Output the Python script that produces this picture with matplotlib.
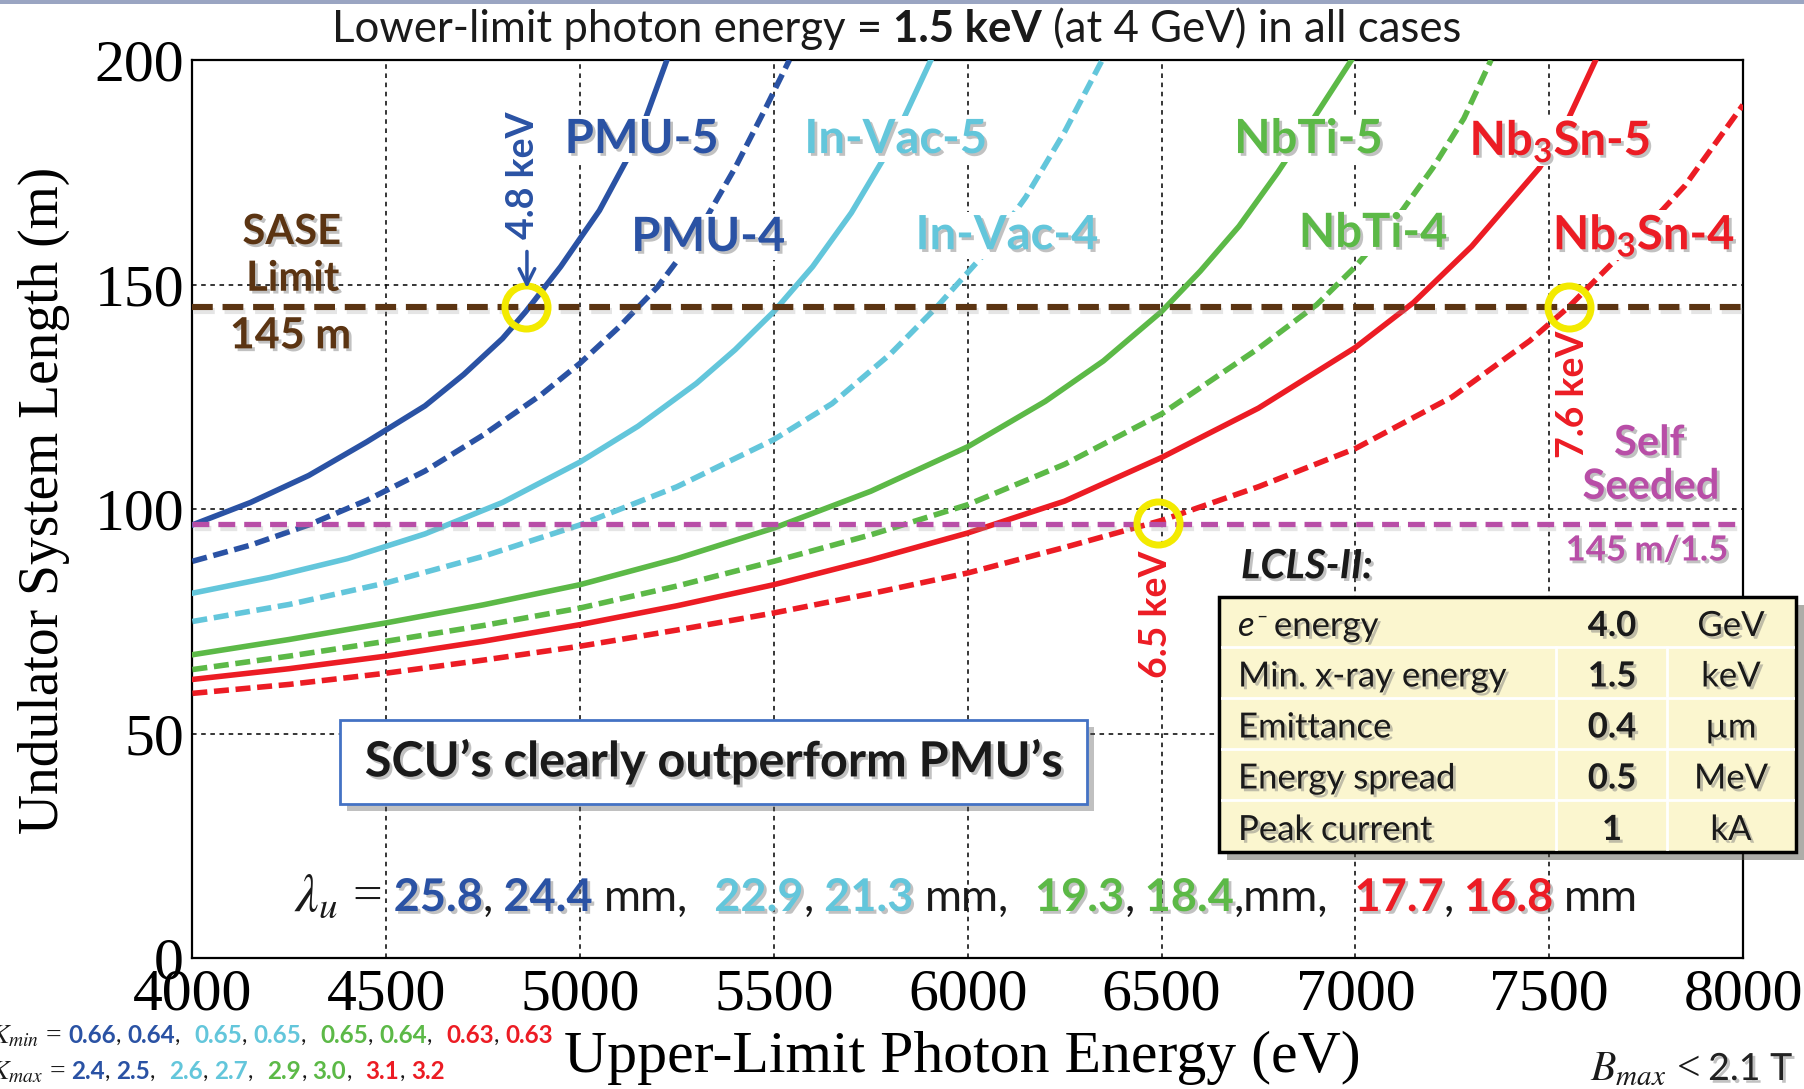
import matplotlib
matplotlib.use('Agg')
import matplotlib.pyplot as plt
import matplotlib.patheffects as pe
from matplotlib.patches import Rectangle

plt.rcParams['font.family'] = ['Lato', 'DejaVu Sans']
plt.rcParams['mathtext.fontset'] = 'custom'
plt.rcParams['mathtext.rm'] = 'Lato:bold'
plt.rcParams['mathtext.bf'] = 'Lato:bold'
plt.rcParams['mathtext.it'] = 'Lato:italic'

# ---- curves: upper-limit photon energy (eV) vs length (m)
e_pmu5 = [4000, 4150, 4300, 4450, 4600, 4700, 4800, 4860, 4950, 5050, 5150, 5224]
l_pmu5 = [96.5, 101.5, 107.5, 115, 123, 130, 138, 144, 154, 166.5, 182.5, 200]
e_pmu4 = [4000, 4150, 4300, 4450, 4600, 4750, 4900, 5000, 5100, 5200, 5300, 5400, 5480, 5540]
l_pmu4 = [88.4, 92, 96.5, 102, 108.5, 116.5, 125.5, 132.5, 140.5, 149.5, 161, 176, 189.5, 200]
e_vac5 = [4000, 4200, 4400, 4600, 4800, 5000, 5150, 5300, 5400, 5500, 5600, 5700, 5800, 5905]
l_vac5 = [81.3, 84.8, 89, 94.5, 101.5, 110.5, 118.5, 128, 135.5, 144, 154, 166, 180.5, 200]
e_vac4 = [4000, 4250, 4500, 4750, 5000, 5250, 5500, 5650, 5800, 5920, 6050, 6150, 6250, 6347]
l_vac4 = [75, 78.8, 83.6, 89.5, 96.5, 105, 115.5, 123.5, 134.5, 145, 157.5, 169.5, 184, 200]
e_nbti5 = [4000, 4250, 4500, 4750, 5000, 5250, 5500, 5750, 6000, 6200, 6350, 6500, 6600, 6700,
           6800, 6900, 6990]
l_nbti5 = [67.6, 71, 74.7, 78.7, 83.2, 89, 95.8, 104, 113.9, 124, 133, 144, 153, 163,
           175, 188, 200]
e_nbti4 = [4000, 4250, 4500, 4750, 5000, 5250, 5500, 5750, 6000, 6250, 6500, 6750, 6900, 7000,
           7100, 7200, 7280, 7350]
l_nbti4 = [64.3, 67.3, 70.6, 74.1, 78, 82.9, 88.4, 94.3, 101, 110, 121.2, 135.8, 145.5, 154,
           164, 176, 187, 200]
e_nbsn5 = [4000, 4250, 4500, 4750, 5000, 5250, 5500, 5750, 6000, 6250, 6500, 6750, 7000, 7150,
           7300, 7475, 7550, 7620]
l_nbsn5 = [62.1, 64.5, 67.3, 70.6, 74.3, 78.5, 83.2, 88.7, 94.7, 101.8, 111.5, 122.5, 136, 146,
           158.5, 176, 187, 200]
e_nbsn4 = [4000, 4250, 4500, 4750, 5000, 5250, 5500, 5750, 6000, 6250, 6500, 6750, 7000, 7250,
           7450, 7550, 7700, 7850, 8000]
l_nbsn4 = [59, 61, 63.5, 66.4, 69.5, 73.1, 76.9, 81.2, 85.8, 91.5, 97.5, 105, 113.5, 125,
           137.5, 145, 158, 172, 190]

sase_limit = 145
self_seeded = 145 / 1.5

circle_e = [4860, 6490, 7550]
circle_l = [145, 97, 145]

lambda_u = [25.8, 24.4, 22.9, 21.3, 19.3, 18.4, 17.7, 16.8]
k_min = [0.66, 0.64, 0.65, 0.65, 0.65, 0.64, 0.63, 0.63]
k_max = [2.4, 2.5, 2.6, 2.7, 2.9, 3.0, 3.1, 3.2]

table_names = ['energy', 'Min. x-ray energy', 'Emittance', 'Energy spread', 'Peak current']
table_values = ['4.0', '1.5', '0.4', '0.5', '1']
table_units = ['GeV', 'keV', '\u00b5m', 'MeV', 'kA']

xticks = [4000, 4500, 5000, 5500, 6000, 6500, 7000, 7500, 8000]
yticks = [0, 50, 100, 150, 200]

BLUE = '#2a52a4'
CYAN = '#63c6db'
GREEN = '#5cb947'
RED = '#ec1c24'
BROWN = '#5b3412'
MAGENTA = '#b84ea7'
YELLOW = '#f3ea00'
DARK = '#1a1a1a'
fam_colors = [BLUE, CYAN, GREEN, RED]

W, H = 1804, 1089
fig = plt.figure(figsize=(W / 100, H / 100), dpi=100)
ax = fig.add_axes([192.4 / W, 1 - 958.4 / H, (1743 - 192.4) / W, 898.4 / H])
shadow = [pe.withSimplePatchShadow(offset=(2, -2), shadow_rgbFace='#777777', alpha=0.45)]
white_box = dict(fc='white', ec='none', pad=1)

# thin header bar of the slide
fig.add_artist(Rectangle((0, 1 - 4 / H), 1, 4 / H, transform=fig.transFigure,
                         color='#9aa5c2', lw=0))

curves = [
    (e_pmu5, l_pmu5, BLUE, '-'), (e_pmu4, l_pmu4, BLUE, '--'),
    (e_vac5, l_vac5, CYAN, '-'), (e_vac4, l_vac4, CYAN, '--'),
    (e_nbti5, l_nbti5, GREEN, '-'), (e_nbti4, l_nbti4, GREEN, '--'),
    (e_nbsn5, l_nbsn5, RED, '-'), (e_nbsn4, l_nbsn4, RED, '--'),
]
for xs, ys, c, ls in curves:
    line, = ax.plot(xs, ys, color=c, lw=4.0, zorder=3, solid_joinstyle='round')
    if ls == '--':
        line.set_dashes((2.7, 1.2))

line_shadow = [pe.SimpleLineShadow(offset=(1, -3), shadow_color='#999999', alpha=0.25), pe.Normal()]
ax.axhline(sase_limit, color=BROWN, lw=4.4, dashes=(3.4, 1.6), zorder=4, path_effects=line_shadow)
ax.axhline(self_seeded, color=MAGENTA, lw=3.8, dashes=(3.2, 1.7), zorder=4, path_effects=line_shadow)

ax.plot(circle_e, circle_l, 'o', ms=31, mfc='none', mec=YELLOW, mew=5, zorder=6)

ax.set_xlim(4000, 8000)
ax.set_ylim(0, 200)
ax.set_xticks(xticks)
ax.set_xticklabels([str(v) for v in xticks], fontfamily='Liberation Serif', fontsize=43)
ax.set_yticks(yticks)
ax.set_yticklabels([str(v) for v in yticks], fontfamily='Liberation Serif', fontsize=43)
ax.tick_params(length=0)
ax.tick_params(axis='x', pad=7)
ax.tick_params(axis='y', pad=6)
ax.grid(True, color='black', lw=1.1, linestyle=(0, (3, 3)), zorder=0)
for s in ax.spines.values():
    s.set_linewidth(1.6)

ax.set_xlabel('Upper-Limit Photon Energy (eV)', fontfamily='Liberation Serif', fontsize=43)
ax.xaxis.set_label_coords(0.4967, -0.1112)
ax.xaxis.label.set_va('center')
ax.set_ylabel('Undulator System Length (m)', fontfamily='Liberation Serif', fontsize=40)
ax.yaxis.set_label_coords(-0.0958, 0.51)
ax.yaxis.label.set_va('center')

# curve labels
labels = [
    ('PMU-5', 5159, 182.4, BLUE), ('PMU-4', 5331, 160.6, BLUE),
    ('In-Vac-5', 5815, 182.4, CYAN), ('In-Vac-4', 6102, 161, CYAN),
    ('NbTi-5', 6879, 182.4, GREEN), ('NbTi-4', 7046, 161.5, GREEN),
    ('Nb$_3$Sn-5', 7528, 182, RED), ('Nb$_3$Sn-4', 7745, 161, RED),
]
for s, x, y, c in labels:
    ax.text(x, y, s, color=c, fontsize=34, fontweight='bold', ha='center', va='center',
            zorder=7, path_effects=shadow, bbox=white_box)

ax.text(4256, 161.7, 'SASE', color=BROWN, fontsize=30, fontweight='bold', ha='center',
        va='center', path_effects=shadow, zorder=7)
ax.text(4259, 151.3, 'Limit', color=BROWN, fontsize=30, fontweight='bold', ha='center',
        va='center', path_effects=shadow, zorder=7)
ax.text(4253, 138.7, '145 m', color=BROWN, fontsize=31, fontweight='bold', ha='center',
        va='center', path_effects=shadow, zorder=7)

ax.text(7758, 114.7, 'Self', color=MAGENTA, fontsize=30, fontweight='bold', ha='center',
        va='center', path_effects=shadow, zorder=7)
ax.text(7762, 105, 'Seeded', color=MAGENTA, fontsize=30, fontweight='bold', ha='center',
        va='center', path_effects=shadow, zorder=7)
ax.text(7752, 90.8, '145 m/1.5', color=MAGENTA, fontsize=25, fontweight='bold', ha='center',
        va='center', path_effects=shadow, zorder=7)

ax.text(4853, 174.4, '4.8 keV', color=BLUE, fontsize=27, fontweight='bold', rotation=90,
        ha='center', va='center', zorder=7, bbox=white_box)
ax.annotate('', xy=(4863, 148.6), xytext=(4863, 158),
            arrowprops=dict(arrowstyle='->', color=BLUE, lw=2.5, mutation_scale=28), zorder=7)
ax.text(6486, 76.6, '6.5 keV', color=RED, fontsize=27, fontweight='bold', rotation=90,
        ha='center', va='center', zorder=7, bbox=white_box)
ax.text(7561, 125.5, '7.6 keV', color=RED, fontsize=27, fontweight='bold', rotation=90,
        ha='center', va='center', zorder=7)

ax.text(6875, 87.2, 'LCLS-II:', color=DARK, fontsize=29, fontweight='bold', style='italic',
        ha='center', va='center', path_effects=shadow, zorder=7)

# "SCU's clearly outperform PMU's" box
ax.add_patch(Rectangle((4381, 34.4), 6308 - 4381, 53.1 - 34.4, fc='white', ec='#4472c4', lw=2,
                       zorder=5, path_effects=[pe.withSimplePatchShadow(offset=(5, -5), alpha=0.35)]))
ax.text(5345, 43.9, 'SCU\u2019s clearly outperform PMU\u2019s', color=DARK, fontsize=35,
        fontweight='bold', ha='center', va='center', zorder=6, path_effects=shadow)

# white band behind the lambda_u line
ax.add_patch(Rectangle((4200, 5), 3400, 19, fc='white', ec='none', zorder=1))

rend = fig.canvas.get_renderer()


def runs(x, y, parts, center=False):
    # parts: (text, gap after in px, text kwargs); x, y in pixels from top-left, y = baseline
    items, cur = [], x
    for s, gap, kw in parts:
        t = fig.text(cur / W, 1 - y / H, s, va='baseline', **kw)
        items.append(t)
        cur += t.get_window_extent(rend).width + gap
    if center:
        shift = (cur - x) / 2
        for t in items:
            t.set_x(t.get_position()[0] - shift / W)
    return items


# title
runs(897, 42.5, [
    ('Lower-limit photon energy =', 11, dict(fontsize=31.5, color=DARK)),
    ('1.5 keV', 11, dict(fontsize=31.5, color=DARK, fontweight='bold')),
    ('(at 4 GeV) in all cases', 0, dict(fontsize=31.5, color=DARK)),
], center=True)

# lambda_u line
lam = [('$\\lambda_u$ =', 12, dict(fontfamily='Liberation Serif', math_fontfamily='stix',
                                    fontsize=38, color=DARK))]
units_after = [('mm,', 26), ('mm,', 26), (',mm,', 26), ('mm', 0)]
for i, v in enumerate(lambda_u):
    c = fam_colors[i // 2]
    big = dict(fontsize=32.5, color=c, fontweight='bold', path_effects=shadow)
    if i % 2 == 0:
        lam.append((f'{v:.1f}', 0, big))
        lam.append((',', 10, dict(fontsize=32.5, color=DARK)))
    else:
        u, g = units_after[i // 2]
        gap = 0 if u.startswith(',') else 11
        lam.append((f'{v:.1f}', gap, big))
        lam.append((u, g, dict(fontsize=32.5, color=DARK)))
runs(966, 911, lam, center=True)

# K lines at bottom left
for y0, name, vals, fmt in [(1043, '$K_{min}$ =', k_min, '{:.2f}'), (1079, '$K_{max}$ =', k_max, '{:.1f}')]:
    parts = [(name, 6, dict(fontfamily='Liberation Serif', math_fontfamily='stix', fontsize=20,
                            color=DARK))]
    for i, v in enumerate(vals):
        parts.append((fmt.format(v), 0, dict(fontsize=17.5, color=fam_colors[i // 2], fontweight='bold')))
        if i < len(vals) - 1:
            parts.append((',', 6 if i % 2 == 0 else 14, dict(fontsize=17.5, color=DARK)))
    runs(-10, y0, parts)

# B_max
runs(1590, 1080, [
    ('$B_{max}$ <', 8, dict(fontfamily='Liberation Serif', math_fontfamily='stix', fontsize=30,
                            color=DARK)),
    ('2.1 T', 0, dict(fontsize=27, color='#222222', path_effects=shadow)),
])

# parameter table (figure pixels)
tl, tr, tt, tb = 1219, 1796, 597, 852
row_edges = [597, 647, 698, 749, 800, 852]
col_edges = [1556, 1667]


def fx(px):
    return px / W


def fy(py):
    return 1 - py / H


fig.add_artist(Rectangle((fx(tl), fy(tb)), fx(tr - tl), (tb - tt) / H, transform=fig.transFigure,
                         fc='#fbf6cf', ec='black', lw=2.5, zorder=10,
                         path_effects=[pe.withSimplePatchShadow(offset=(6, -6), alpha=0.45)]))
for r in row_edges[1:-1]:
    fig.add_artist(plt.Line2D([fx(tl + 3), fx(tr - 3)], [fy(r), fy(r)], transform=fig.transFigure,
                              color='white', lw=2, zorder=11))
for c in col_edges:
    fig.add_artist(plt.Line2D([fx(c), fx(c)], [fy(row_edges[1]), fy(tb - 3)],
                              transform=fig.transFigure, color='white', lw=2, zorder=11))
for i in range(5):
    base = (row_edges[i] + row_edges[i + 1]) / 2 + 14
    if i == 0:
        runs(1238, base, [('e', 2, dict(fontsize=25, color=DARK, style='italic', zorder=12)),
                          ('\u2013', 6, dict(fontsize=14, color=DARK, zorder=12)),
                          (table_names[0], 0, dict(fontsize=25, color=DARK, zorder=12,
                                                   path_effects=shadow))])
        fig.texts[-2].set_y(fy(base - 14))
    else:
        fig.text(fx(1238), fy(base), table_names[i], fontsize=25, color=DARK, va='baseline',
                 zorder=12, path_effects=shadow)
    fig.text(fx(1612), fy(base), table_values[i], fontsize=25, color=DARK, fontweight='bold',
             ha='center', va='baseline', zorder=12, path_effects=shadow)
    fig.text(fx(1731), fy(base), table_units[i], fontsize=25, color=DARK, ha='center',
             va='baseline', zorder=12, path_effects=shadow)

fig.savefig('out.png', dpi=100)
